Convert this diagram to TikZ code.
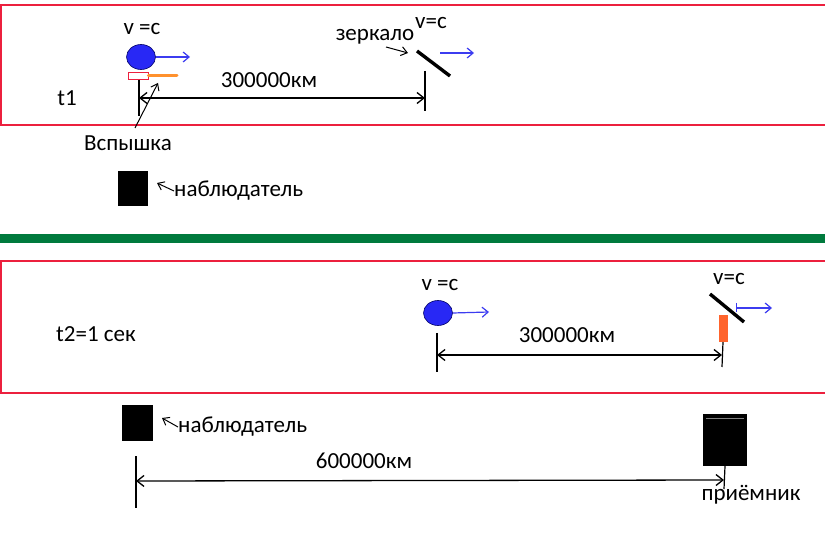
\documentclass[tikz,border=0pt]{standalone}
\usepackage{fontspec}
\setmainfont{Carlito}
\usetikzlibrary{arrows.meta,shapes.geometric}
\definecolor{framered}{RGB}{236,32,62}
\definecolor{bandgreen}{RGB}{0,122,61}
\definecolor{ballblue}{RGB}{40,40,245}
\definecolor{speedblue}{RGB}{60,60,240}
\definecolor{flashorange}{RGB}{255,145,45}
\definecolor{recvorange}{RGB}{255,100,45}
\tikzset{
  lbl/.style={font=\fontsize{23}{26}\selectfont, inner sep=0pt},
  frame/.style={draw=framered, line width=1.3pt},
  ball/.style={ellipse, draw=blue!40!black, fill=ballblue, line width=0.6pt, minimum width=29pt, minimum height=25pt, inner sep=0pt},
  speed/.style={-{Straight Barb[length=6pt,width=10pt]}, draw=speedblue, line width=1.2pt},
  dim/.style={{Straight Barb[length=7pt,width=11pt]}-{Straight Barb[length=7pt,width=11pt]}, line width=1.3pt},
  tick/.style={line width=1.2pt},
  mirror/.style={line width=3.4pt},
  pointer/.style={-{Straight Barb[length=6pt,width=9pt]}, line width=1pt},
  box/.style={fill=black, inner sep=0pt},
}
\begin{document}
\begin{tikzpicture}[x=1pt,y=-1pt]
  \useasboundingbox (0,0) rectangle (825,545);
  % frames and band
  \draw[frame] (1,5) rectangle (828,125);
  \draw[frame] (1,261) rectangle (828,393);
  \fill[bandgreen] (0,234) rectangle (825,243);

  % t1
  \node[lbl] (t1) at (67,98) {t1};
  \node[lbl] (v1) at (142,29) {v =c};
  \node[ball] (s1) at (141,57) {};
  \coordinate (s1v) at (190,57);
  \draw[speed] (s1.east) -- (s1v);
  \node[draw=framered, line width=0.8pt, minimum width=20pt, minimum height=7pt, inner sep=0pt] (fl) at (138,75.5) {};
  \coordinate (fl1) at (177,75.5);
  \draw[flashorange, line width=3pt, line cap=round] (fl.east) -- (fl1);
  \coordinate (a1t) at (139,80);
  \coordinate (a1b) at (139,116);
  \draw[tick] (a1t) -- (a1b);
  \coordinate (m1t) at (425,71);
  \coordinate (m1b) at (425,111);
  \draw[tick] (m1t) -- (m1b);
  \coordinate (d1l) at (139,98);
  \coordinate (d1r) at (425,98);
  \draw[dim] (d1l) -- (d1r);
  \node[lbl] (km1) at (269,80) {300000км};
  \node[lbl] (flash) at (128,143) {Вспышка};
  \coordinate (flp) at (135,128);
  \coordinate (flq) at (158,83);
  \draw[pointer] (flp) -- (flq);
  \coordinate (mir1a) at (417,51);
  \coordinate (mir1b) at (450,76);
  \draw[mirror] (mir1a) -- (mir1b);
  \node[lbl] (zer) at (375,37) {зеркало};
  \coordinate (zp) at (386,47);
  \coordinate (zq) at (408,53);
  \draw[pointer] (zp) -- (zq);
  \node[lbl] (v2) at (431,23) {v=c};
  \coordinate (m1v0) at (440,53);
  \coordinate (m1v) at (474,53);
  \draw[speed] (m1v0) -- (m1v);
  \node[box, minimum width=30pt, minimum height=35pt] (obs1) at (132.5,189) {};
  \node[lbl, anchor=west] (obs1l) at (174,191) {наблюдатель};
  \coordinate (o1q) at (157,183);
  \draw[pointer] (obs1l.west) -- (o1q);

  % t2
  \node[lbl] (t2) at (96,334) {t2=1 сек};
  \node[lbl] (v3) at (440,285) {v =c};
  \node[ball] (s2) at (438,313) {};
  \coordinate (s2v) at (489,312);
  \draw[speed] (s2.east) -- (s2v);
  \coordinate (a2t) at (437,333);
  \coordinate (a2b) at (437,372);
  \draw[tick] (a2t) -- (a2b);
  \node[fill=recvorange, minimum width=9pt, minimum height=27pt, inner sep=0pt] (rc) at (723,328.5) {};
  \coordinate (m2b) at (722,367);
  \draw[tick] (rc.south) -- (m2b);
  \coordinate (d2l) at (437,355);
  \coordinate (d2r) at (722,355);
  \draw[dim] (d2l) -- (d2r);
  \node[lbl] (km2) at (567,335) {300000км};
  \coordinate (mir2a) at (710,294);
  \coordinate (mir2b) at (744,322);
  \draw[mirror] (mir2a) -- (mir2b);
  \node[lbl] (v4) at (729,279) {v=c};
  \coordinate (m2s) at (736,303);
  \coordinate (m2t) at (736,312);
  \draw[speedblue, line width=1pt] (m2s) -- (m2t);
  \coordinate (m2v0) at (736,308);
  \coordinate (m2v) at (772,308);
  \draw[speed] (m2v0) -- (m2v);

  % observer and receiver
  \node[box, minimum width=31pt, minimum height=36pt] (obs2) at (137.5,423) {};
  \node[lbl, anchor=west] (obs2l) at (178,427) {наблюдатель};
  \coordinate (o2q) at (162,418);
  \draw[pointer] (obs2l.west) -- (o2q);
  \coordinate (a3t) at (136,456);
  \coordinate (a3b) at (136,508);
  \draw[tick] (a3t) -- (a3b);
  \node[box, minimum width=44pt, minimum height=52pt] (recv) at (725,440) {};
  \draw[gray, line width=0.6pt] ([xshift=3pt,yshift=-4pt]recv.north west) -- ([xshift=-3pt,yshift=-4pt]recv.north east);
  \coordinate (r1b) at (724,489);
  \draw[tick] (recv.south) -- (r1b);
  \coordinate (d3l) at (136,481);
  \coordinate (d3r) at (724,480);
  \draw[dim] (d3l) -- (d3r);
  \node[lbl] (km3) at (364,461) {600000км};
  \node[lbl] (recvl) at (751,495) {приёмник};
\end{tikzpicture}
\end{document}
